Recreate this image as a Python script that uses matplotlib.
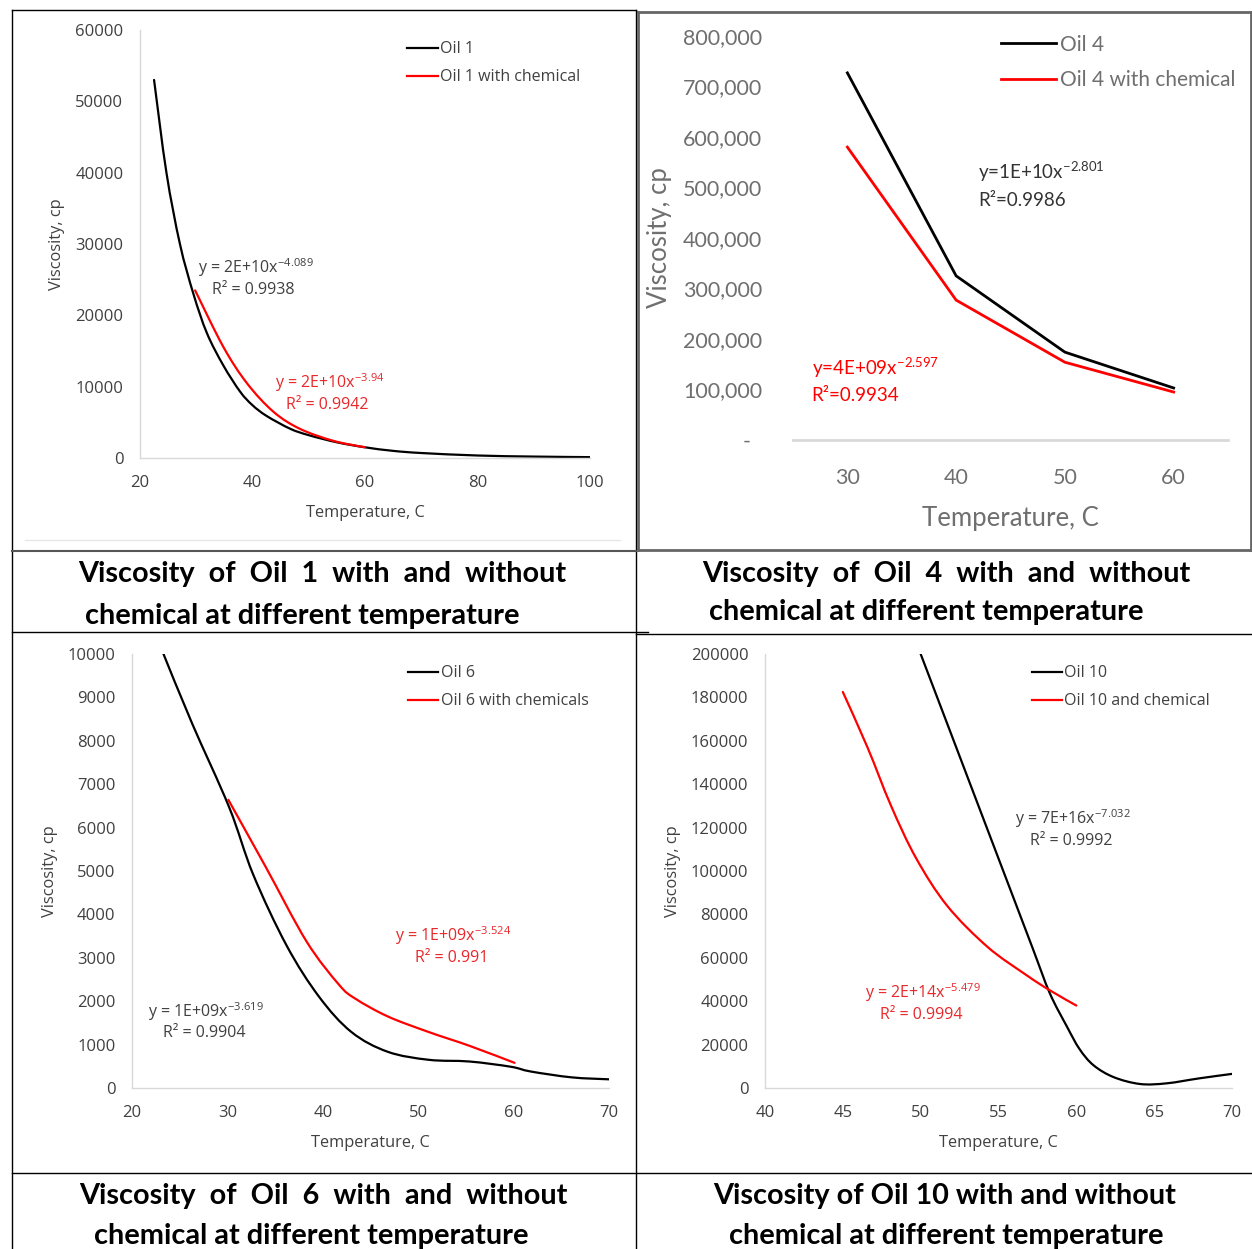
import numpy as np
import matplotlib.pyplot as plt
from matplotlib.ticker import FuncFormatter
from matplotlib.path import Path
from matplotlib.patches import PathPatch
from matplotlib.lines import Line2D

# Oil 1
oil1_temp = [22.5, 24.7, 27.1, 29.5, 31.9, 34.8, 37.8, 40.0, 42.5, 46.7, 50.0, 55.0, 60.0, 65.0, 70.0, 80.0, 90.0, 100]
oil1_visc = [53000, 40000, 30000, 23000, 17500, 13000, 9300, 7400, 5900, 4100, 3200, 2200, 1500, 1000, 700, 350, 200, 120]
oil1c_temp = [29.8, 34.8, 39.0, 43.7, 48.4, 54.4, 60.0]
oil1c_visc = [23500, 15600, 10500, 6500, 4100, 2400, 1500]

# Oil 4 (category axis)
oil4_temp = [30, 40, 50, 60]
oil4_visc = [727000, 325000, 174000, 103000]
oil4c_visc = [580000, 277000, 154000, 95000]

# Oil 6
oil6_temp = [23.3, 26.3, 30.2, 32.7, 36.2, 39.6, 43.0, 46.8, 51.1, 55.4, 59.7, 61.8, 66.1, 70]
oil6_visc = [10000, 8400, 6460, 4920, 3285, 2105, 1290, 835, 650, 610, 490, 380, 245, 200]
oil6c_temp = [30.1, 34.0, 38.3, 41.7, 43.4, 46.8, 51.1, 55.4, 60.1]
oil6c_visc = [6640, 5100, 3375, 2380, 2060, 1650, 1290, 970, 580]

# Oil 10
oil10_temp = [50.0, 51.7, 53.8, 55.8, 57.2, 58.3, 59.4, 60.2, 61.1, 62.4, 64.1, 65.8, 67.9, 70.0]
oil10_visc = [200000, 168000, 128400, 90700, 64300, 43600, 28250, 18000, 10500, 5000, 1840, 2150, 4450, 6500]
oil10c_temp = [45, 46.6, 48.1, 49.7, 51.7, 54.3, 56.8, 58.3, 60]
oil10c_visc = [182500, 156700, 130000, 106000, 84000, 65000, 52000, 45000, 38000]

W, H = 1252, 1249
RED = '#ff0000'
RED_TXT = '#e8282b'
DARK = '#404040'
XL_FONT = 'Open Sans'
CAL_FONT = 'Lato'


def px_axes(fig, left, top, right, bottom):
    return fig.add_axes([left / W, 1 - bottom / H, (right - left) / W, (bottom - top) / H])


# Excel style "smoothed line": cubic Bezier pieces through the points
def smooth_line(ax, x, y, color, lw):
    pts = np.column_stack([x, y]).astype(float)
    ext = np.vstack([pts[0], pts, pts[-1]])
    verts = [pts[0]]
    codes = [Path.MOVETO]
    for i in range(len(pts) - 1):
        p0, p1, p2, p3 = ext[i], ext[i + 1], ext[i + 2], ext[i + 3]
        verts += [p1 + (p2 - p0) / 6, p2 - (p3 - p1) / 6, p2]
        codes += [Path.CURVE4] * 3
    ax.add_patch(PathPatch(Path(verts, codes), fill=False, edgecolor=color, lw=lw,
                           capstyle='round', joinstyle='round'))
    return Line2D([], [], color=color, lw=lw)


def excel_axes(ax, xlim, ylim, xticks, yticks):
    ax.set_xlim(*xlim)
    ax.set_ylim(*ylim)
    ax.set_xticks(xticks)
    ax.set_yticks(yticks)
    for s in ['top', 'right']:
        ax.spines[s].set_visible(False)
    for s in ['left', 'bottom']:
        ax.spines[s].set_color('#d9d9d9')
        ax.spines[s].set_linewidth(1.0)
    ax.tick_params(length=0, labelsize=12, colors=DARK, pad=12)
    for lab in ax.get_xticklabels() + ax.get_yticklabels():
        lab.set_fontfamily(XL_FONT)
    ax.set_xlabel('Temperature, C', fontsize=11.8, color=DARK, family=XL_FONT, labelpad=10)
    ax.set_ylabel('Viscosity, cp', fontsize=11.8, color=DARK, family=XL_FONT, labelpad=7)
    ax.set_facecolor('none')


def legend(ax, handles, labels, x):
    ax.legend(handles, labels, loc='upper left', bbox_to_anchor=(x, 1.007), frameon=False,
              handlelength=1.9, handletextpad=0.15, labelspacing=0.75,
              prop={'family': XL_FONT, 'size': 11.5}, labelcolor=DARK)


def eq(ax, x, y, coef, exp, r2, color, dx, size=11.5):
    ax.text(x, y, 'y = ' + coef + 'x$^{\\mathregular{' + exp + '}}$', transform=ax.transAxes,
            fontsize=size, color=color, family=XL_FONT, va='center')
    ax.text(x + dx, y - 0.051, 'R² = ' + r2, transform=ax.transAxes,
            fontsize=size, color=color, family=XL_FONT, va='center')


fig = plt.figure(figsize=(W / 100, H / 100), dpi=100)

# ---- Oil 1 ----
ax1 = px_axes(fig, 140, 30, 590, 458)
h1 = smooth_line(ax1, oil1_temp, oil1_visc, 'black', 1.6)
h2 = smooth_line(ax1, oil1c_temp, oil1c_visc, RED, 1.6)
excel_axes(ax1, (20, 100), (0, 60000), [20, 40, 60, 80, 100], range(0, 60001, 10000))
legend(ax1, [h1, h2], ['Oil 1', 'Oil 1 with chemical'], 0.562)
eq(ax1, 0.129, 0.444, '2E+10', '-4.089', '0.9938', DARK, 0.031)
eq(ax1, 0.3, 0.175, '2E+10', '-3.94', '0.9942', RED_TXT, 0.024)

# ---- Oil 4 ----
ax2 = px_axes(fig, 793, 36, 1228, 440)
ax2.plot(oil4_temp, oil4_visc, color='black', lw=2.0, label='Oil 4')
ax2.plot(oil4_temp, oil4c_visc, color=RED, lw=2.0, label='Oil 4 with chemical')
ax2.set_xlim(25, 65)
ax2.set_ylim(0, 800000)
ax2.set_xticks(oil4_temp)
ax2.set_yticks(range(0, 800001, 100000))
ax2.yaxis.set_major_formatter(FuncFormatter(lambda v, p: '-  ' if v == 0 else f'{int(v):,}'))
for s in ['top', 'right', 'left']:
    ax2.spines[s].set_visible(False)
ax2.spines['bottom'].set_color('#d9d9d9')
ax2.spines['bottom'].set_linewidth(2.0)
ax2.tick_params(length=0, labelsize=15.5, colors='#6f6f6f')
ax2.tick_params(axis='y', pad=22)
ax2.tick_params(axis='x', pad=20)
for lab in ax2.get_xticklabels() + ax2.get_yticklabels():
    lab.set_fontfamily(CAL_FONT)
ax2.set_xlabel('Temperature, C', fontsize=18.5, color='#6f6f6f', family=CAL_FONT, labelpad=13)
ax2.set_ylabel('Viscosity, cp', fontsize=18.5, color='#6f6f6f', family=CAL_FONT, labelpad=8)
ax2.legend(loc='upper left', bbox_to_anchor=(0.435, 1.05), frameon=False, handlelength=2.65,
           handletextpad=0.2, labelspacing=0.75, prop={'family': CAL_FONT, 'size': 15},
           labelcolor='#6f6f6f')
ax2.text(0.425, 0.665, 'y=1E+10x$^{\\mathregular{-2.801}}$', transform=ax2.transAxes,
         fontsize=13.5, color='#333333', family=CAL_FONT, va='center')
ax2.text(0.425, 0.593, 'R²=0.9986', transform=ax2.transAxes,
         fontsize=13.5, color='#333333', family=CAL_FONT, va='center')
ax2.text(0.043, 0.18, 'y=4E+09x$^{\\mathregular{-2.597}}$', transform=ax2.transAxes,
         fontsize=13.5, color=RED, family=CAL_FONT, va='center')
ax2.text(0.043, 0.11, 'R²=0.9934', transform=ax2.transAxes,
         fontsize=13.5, color=RED, family=CAL_FONT, va='center')

# ---- Oil 6 ----
ax3 = px_axes(fig, 132, 654, 609, 1088)
h1 = smooth_line(ax3, oil6_temp, oil6_visc, 'black', 1.6)
h2 = smooth_line(ax3, oil6c_temp, oil6c_visc, RED, 1.6)
excel_axes(ax3, (20, 70), (0, 10000), range(20, 71, 10), range(0, 10001, 1000))
legend(ax3, [h1, h2], ['Oil 6', 'Oil 6 with chemicals'], 0.548)
eq(ax3, 0.034, 0.177, '1E+09', '-3.619', '0.9904', DARK, 0.031)
eq(ax3, 0.551, 0.35, '1E+09', '-3.524', '0.991', RED_TXT, 0.042)

# ---- Oil 10 ----
ax4 = px_axes(fig, 765, 654, 1232, 1088)
h1 = smooth_line(ax4, oil10_temp, oil10_visc, 'black', 1.6)
h2 = smooth_line(ax4, oil10c_temp, oil10c_visc, RED, 1.6)
excel_axes(ax4, (40, 70), (0, 200000), range(40, 71, 5), range(0, 200001, 20000))
legend(ax4, [h1, h2], ['Oil 10', 'Oil 10 and chemical'], 0.54)
eq(ax4, 0.535, 0.62, '7E+16', '-7.032', '0.9992', DARK, 0.032)
eq(ax4, 0.214, 0.219, '2E+14', '-5.479', '0.9994', RED_TXT, 0.032)

# ---- table frame and captions ----
bg = fig.add_axes([0, 0, 1, 1], zorder=-5)
bg.set_xlim(0, W)
bg.set_ylim(H, 0)
bg.axis('off')
k = dict(color='black', lw=1.0)
bg.plot([12, 636], [10, 10], **k)
bg.plot([12, 12], [10, H], **k)
bg.plot([636, 636], [10, H], **k)
bg.plot([12, 636], [551, 551], color='#555555', lw=1.5)
bg.plot([12, 648], [632, 632], **k)
bg.plot([636, W], [634, 634], **k)
bg.plot([12, W], [1173, 1173], **k)
# panel 2 own border
g = dict(color='#666666', lw=2.0)
bg.plot([638, W], [12, 12], **g)
bg.plot([638, 638], [12, 550], **g)
bg.plot([638, W], [550, 550], **g)
bg.plot([W - 1, W - 1], [12, 550], **g)
# faint chart area border of panel 1
bg.plot([25, 620], [540, 540], color='#e6e6e6', lw=1.0)

cap = dict(fontsize=20.8, fontweight='bold', family=CAL_FONT, color='black', ha='center', va='center')
bg.text(322, 574, 'Viscosity  of  Oil  1  with  and  without', **cap)
bg.text(302, 616, 'chemical at different temperature', **cap)
bg.text(946, 574, 'Viscosity  of  Oil  4  with  and  without', **cap)
bg.text(926, 612, 'chemical at different temperature', **cap)
bg.text(323, 1196, 'Viscosity  of  Oil  6  with  and  without', **cap)
bg.text(311, 1236, 'chemical at different temperature', **cap)
bg.text(945, 1196, 'Viscosity of Oil 10 with and without', **cap)
bg.text(946, 1236, 'chemical at different temperature', **cap)

fig.savefig('out.png', dpi=100)
